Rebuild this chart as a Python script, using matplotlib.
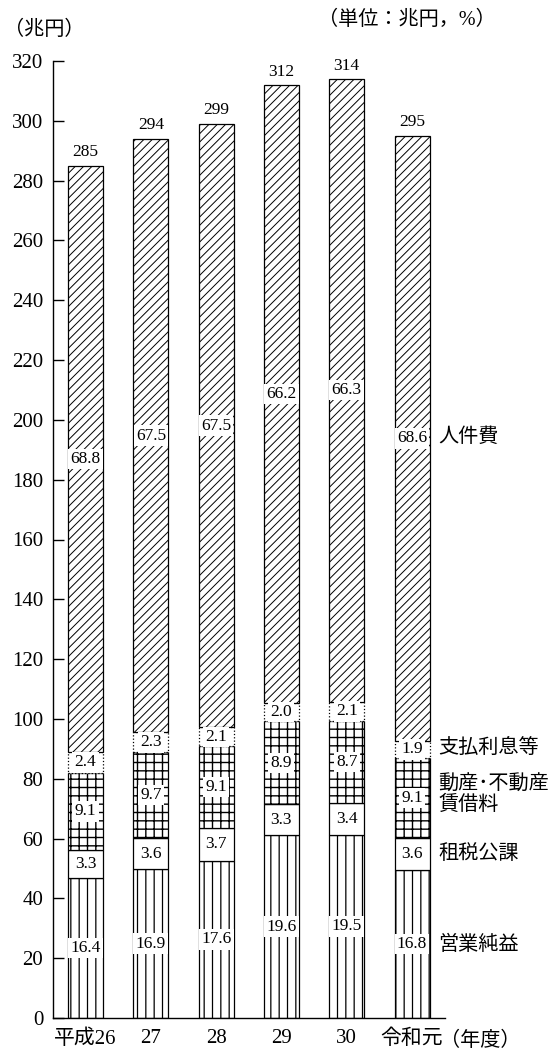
import matplotlib
matplotlib.use("Agg")
import matplotlib.pyplot as plt
import numpy as np

years = ['平成26', '27', '28', '29', '30', '令和元']
totals = [285, 294, 299, 312, 314, 295]
eigyo = [16.4, 16.9, 17.6, 19.6, 19.5, 16.8]
sozei = [3.3, 3.6, 3.7, 3.3, 3.4, 3.6]
chinshaku = [9.1, 9.7, 9.1, 8.9, 8.7, 9.1]
shiharai = [2.4, 2.3, 2.1, 2.0, 2.1, 1.9]
jinken = [68.8, 67.5, 67.5, 66.2, 66.3, 68.6]
series_names = ['営業純益', '租税公課', '動産･不動産\n賃借料', '支払利息等', '人件費']
yticks = list(range(0, 321, 20))

FONT = ['Liberation Serif', 'Noto Sans CJK JP', 'DejaVu Sans']
plt.rcParams['font.family'] = FONT

fig = plt.figure(figsize=(5.48, 10.54), dpi=100)
W, H = 548, 1054
ax = fig.add_axes([53 / W, 36 / H, (445 - 53) / W, (1018 - 61) / H])

x = np.arange(len(years))
width = 0.536
series = [eigyo, sozei, chinshaku, shiharai, jinken]
hatches = ['||', '', '++', '', '////']
hlw = [0.9, 0.8, 1.0, 0.8, 0.7]
lstyles = ['-', '-', '-', ':', '-']
bottom = np.zeros(len(years))
tot = np.array(totals, dtype=float)
for s, h, lw, ls in zip(series, hatches, hlw, lstyles):
    vals = tot * np.array(s) / 100.0
    with plt.rc_context({'hatch.linewidth': lw}):
        ax.bar(x, vals, width, bottom=bottom, color='white',
               edgecolor='black', hatch=h, linewidth=0.9, linestyle=ls,
               zorder=2)
    centers = bottom + vals / 2
    for xi, c, p in zip(x, centers, s):
        ax.text(xi, c, f'{p:.1f}', ha='center', va='center', fontsize=12.5,
                family=FONT, zorder=4,
                bbox=dict(boxstyle='square,pad=0.13', fc='white', ec='none'))
    bottom = bottom + vals

for xi, t in zip(x, totals):
    ax.text(xi, t + 1.8, str(t), ha='center', va='bottom', fontsize=12.5, family=FONT)

ax.set_xlim(-0.498, 5.505)
ax.set_ylim(0, 320)
ax.set_yticks(yticks)
ax.set_yticklabels([str(v) for v in yticks], fontsize=15, family=FONT)
ax.tick_params(axis='y', direction='in', length=8, width=1, pad=7)
ax.set_xticks(x)
ax.set_xticklabels(years, fontsize=15, family=FONT)
ax.tick_params(axis='x', length=0, pad=8)
for sp in ['top', 'right']:
    ax.spines[sp].set_visible(False)
ax.spines['left'].set_linewidth(1)
ax.spines['bottom'].set_linewidth(1)

# right-side series labels
label_y = [24.4, 54.6, 74.5, 90, 194]
for name, yv in zip(series_names, label_y):
    ax.text(5.40, yv, name, ha='left', va='center', fontsize=14.5, family=FONT,
            linespacing=1.1, clip_on=False)

fig.text(4 / W, 1 - 30 / H, '（兆円）', ha='left', va='center', fontsize=14.5, family=FONT)
fig.text(318 / W, 1 - 20 / H, '（単位：兆円，%）', ha='left', va='center', fontsize=14.5, family=FONT)
fig.text(440 / W, 1 - 1041 / H, '（年度）', ha='left', va='center', fontsize=14.5, family=FONT)

fig.savefig('out.png', dpi=100)
